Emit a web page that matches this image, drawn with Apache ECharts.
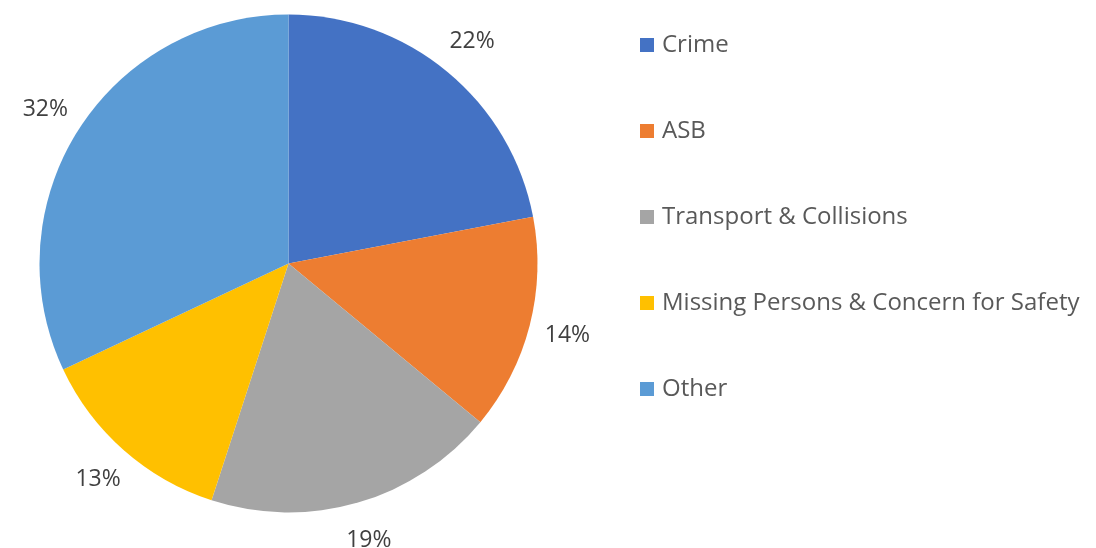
<!DOCTYPE html>
<html>
<head>
<meta charset="utf-8">
<script src="https://cdn.jsdelivr.net/npm/echarts@6/dist/echarts.min.js"></script>
<style>
  html, body { margin: 0; padding: 0; background: #fff; }
  #charts { width: 1096px; height: 548px; }
</style>
</head>
<body>
<div id="charts"></div>
<script>
const categories = ["Crime", "ASB", "Transport & Collisions", "Missing Persons & Concern for Safety", "Other"];
const shares = [22, 14, 19, 13, 32];
const colors = ["#4472C4", "#ED7D31", "#A5A5A5", "#FFC000", "#5B9BD5"];

const pieData = categories.map((name, i) => ({
  name: name,
  value: shares[i],
  itemStyle: { color: colors[i] }
}));

const center = [288.5, 263.5];
const font = "'Open Sans', 'Noto Sans', sans-serif";

const option = {
  animation: false,
  legend: {
    orient: "vertical",
    left: 635,
    top: 28,
    itemWidth: 14,
    itemHeight: 14,
    itemGap: 62,
    icon: "rect",
    data: categories,
    textStyle: { color: "#595959", fontSize: 24, fontFamily: font, lineHeight: 24, padding: [0, 0, 0, 3] }
  },
  series: [
    {
      type: "pie",
      center: center,
      radius: 249,
      startAngle: 90,
      clockwise: true,
      silent: true,
      label: { show: false },
      labelLine: { show: false },
      data: pieData
    },
    {
      // transparent ring used only to place the percentage labels
      type: "pie",
      center: center,
      radius: [249, 321],
      startAngle: 90,
      clockwise: true,
      silent: true,
      itemStyle: { color: "transparent" },
      label: {
        show: true,
        position: "inside",
        formatter: "{c}%",
        color: "#404040",
        fontSize: 23,
        fontFamily: font
      },
      labelLine: { show: false },
      data: categories.map((name, i) => ({ name: name, value: shares[i] }))
    }
  ]
};

const charts = echarts.init(document.getElementById("charts"));
charts.setOption(option);
</script>
</body>
</html>
